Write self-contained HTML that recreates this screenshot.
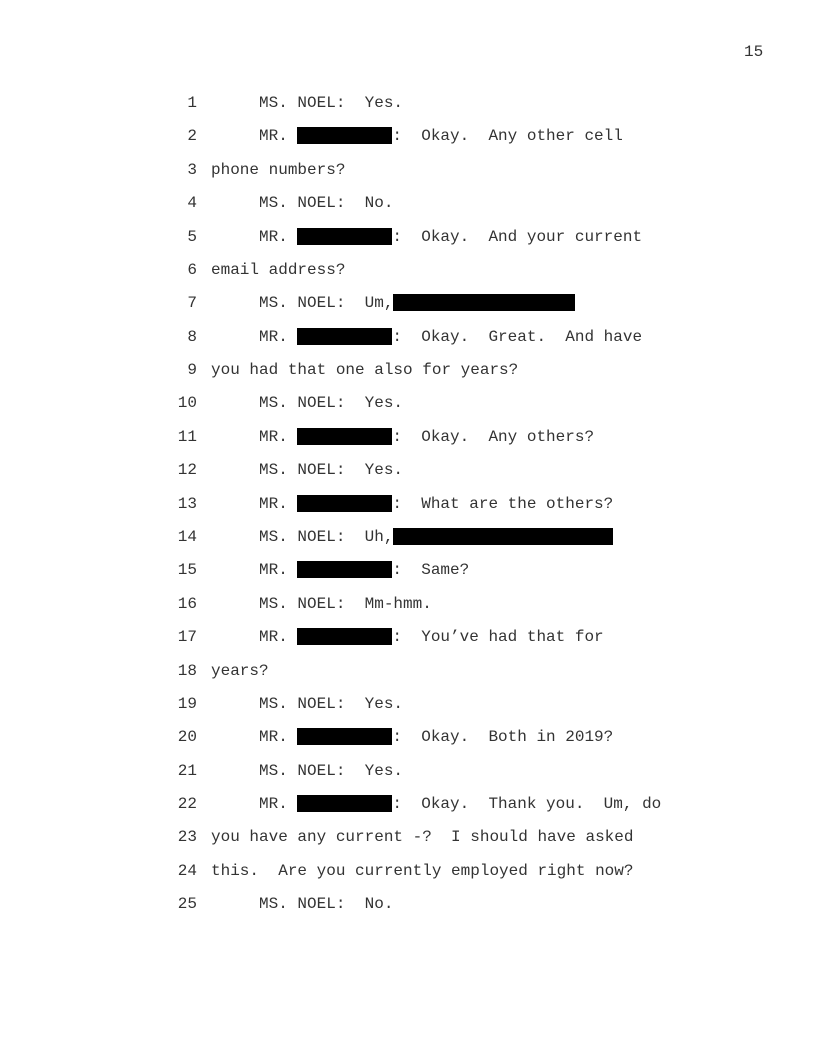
<!DOCTYPE html>
<html><head><meta charset="utf-8"><style>
html,body{margin:0;padding:0;background:#fff;}
body{width:816px;height:1056px;position:relative;overflow:hidden;font-family:"Liberation Mono","Courier New",monospace;font-size:16px;color:#333;}
.l{position:absolute;left:0;height:20px;line-height:20px;white-space:pre;margin-top:1px;}
.n{position:absolute;left:150px;width:47px;text-align:right;}
.t{position:absolute;left:211px;}
.r{display:inline-block;background:#000;height:17px;vertical-align:-4px;}
.pg{position:absolute;left:744px;top:42px;line-height:20px;}
</style></head><body>
<div class="pg">15</div>
<div class="l" style="top:92px"><span class="n">1</span><span class="t">     MS. NOEL:  Yes.</span></div>
<div class="l" style="top:125.4px"><span class="n">2</span><span class="t">     MR. <span class="r" style="width:95px"></span>:  Okay.  Any other cell</span></div>
<div class="l" style="top:158.8px"><span class="n">3</span><span class="t">phone numbers?</span></div>
<div class="l" style="top:192.1px"><span class="n">4</span><span class="t">     MS. NOEL:  No.</span></div>
<div class="l" style="top:225.5px"><span class="n">5</span><span class="t">     MR. <span class="r" style="width:95px"></span>:  Okay.  And your current</span></div>
<div class="l" style="top:258.9px"><span class="n">6</span><span class="t">email address?</span></div>
<div class="l" style="top:292.3px"><span class="n">7</span><span class="t">     MS. NOEL:  Um, <span class="r" style="width:182px;margin-left:-9.6px"></span></span></div>
<div class="l" style="top:325.7px"><span class="n">8</span><span class="t">     MR. <span class="r" style="width:95px"></span>:  Okay.  Great.  And have</span></div>
<div class="l" style="top:359px"><span class="n">9</span><span class="t">you had that one also for years?</span></div>
<div class="l" style="top:392.4px"><span class="n">10</span><span class="t">     MS. NOEL:  Yes.</span></div>
<div class="l" style="top:425.8px"><span class="n">11</span><span class="t">     MR. <span class="r" style="width:95px"></span>:  Okay.  Any others?</span></div>
<div class="l" style="top:459.2px"><span class="n">12</span><span class="t">     MS. NOEL:  Yes.</span></div>
<div class="l" style="top:492.6px"><span class="n">13</span><span class="t">     MR. <span class="r" style="width:95px"></span>:  What are the others?</span></div>
<div class="l" style="top:526px"><span class="n">14</span><span class="t">     MS. NOEL:  Uh, <span class="r" style="width:220px;margin-left:-9.6px"></span></span></div>
<div class="l" style="top:559.3px"><span class="n">15</span><span class="t">     MR. <span class="r" style="width:95px"></span>:  Same?</span></div>
<div class="l" style="top:592.7px"><span class="n">16</span><span class="t">     MS. NOEL:  Mm-hmm.</span></div>
<div class="l" style="top:626.1px"><span class="n">17</span><span class="t">     MR. <span class="r" style="width:95px"></span>:  You’ve had that for</span></div>
<div class="l" style="top:659.5px"><span class="n">18</span><span class="t">years?</span></div>
<div class="l" style="top:692.9px"><span class="n">19</span><span class="t">     MS. NOEL:  Yes.</span></div>
<div class="l" style="top:726.2px"><span class="n">20</span><span class="t">     MR. <span class="r" style="width:95px"></span>:  Okay.  Both in 2019?</span></div>
<div class="l" style="top:759.6px"><span class="n">21</span><span class="t">     MS. NOEL:  Yes.</span></div>
<div class="l" style="top:793px"><span class="n">22</span><span class="t">     MR. <span class="r" style="width:95px"></span>:  Okay.  Thank you.  Um, do</span></div>
<div class="l" style="top:826.4px"><span class="n">23</span><span class="t">you have any current -?  I should have asked</span></div>
<div class="l" style="top:859.8px"><span class="n">24</span><span class="t">this.  Are you currently employed right now?</span></div>
<div class="l" style="top:893px"><span class="n">25</span><span class="t">     MS. NOEL:  No.</span></div>
</body></html>
